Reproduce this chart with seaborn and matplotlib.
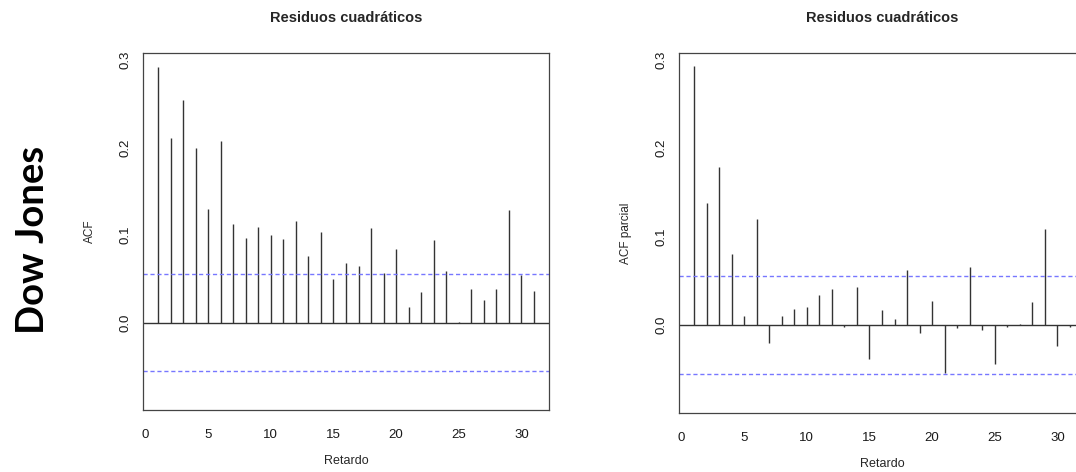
import numpy as np
import matplotlib
matplotlib.use("Agg")
import matplotlib.pyplot as plt
import seaborn as sns

# Lags and correlations
lags = list(range(1, 32))
acf_vals = [0.292, 0.211, 0.254, 0.199, 0.130, 0.207, 0.113, 0.097, 0.109, 0.100,
            0.095, 0.116, 0.076, 0.103, 0.050, 0.068, 0.065, 0.108, 0.057, 0.084,
            0.018, 0.035, 0.094, 0.059, 0.001, 0.038, 0.026, 0.038, 0.129, 0.054,
            0.036]
pacf_vals = [0.293, 0.138, 0.179, 0.080, 0.010, 0.120, -0.021, 0.010, 0.018, 0.020,
             0.034, 0.040, -0.003, 0.043, -0.039, 0.017, 0.006, 0.062, -0.009, 0.027,
             -0.055, -0.004, 0.066, -0.006, -0.044, -0.002, 0.001, 0.026, 0.109, -0.024,
             -0.002]
conf_acf = 0.055
conf_pacf = 0.0555

panel_title = "Residuos cuadráticos"
x_label = "Retardo"
y_labels = ["ACF", "ACF parcial"]
row_label = "Dow Jones"

sns.set_theme(style="white")
plt.rcParams['font.family'] = ['Liberation Sans', 'DejaVu Sans']

fig = plt.figure(figsize=(10.76, 4.72), dpi=100)
ax1 = fig.add_axes([143 / 1076, 1 - 410 / 472, 406 / 1076, 357 / 472])
ax2 = fig.add_axes([679 / 1076, 1 - 413 / 472, 406 / 1076, 360 / 472])

for ax, vals, conf, ylab in [(ax1, acf_vals, conf_acf, y_labels[0]),
                             (ax2, pacf_vals, conf_pacf, y_labels[1])]:
    ax.vlines(lags, 0, vals, color="#333333", linewidth=1.0)
    ax.axhline(0, color="#333333", linewidth=1.0)
    ax.axhline(conf, color="#7777ff", linewidth=1.0, linestyle=(0, (3, 2)))
    ax.axhline(-conf, color="#7777ff", linewidth=1.0, linestyle=(0, (3, 2)))
    ax.set_xlim(-0.2, 32.2)
    ax.set_ylim(-0.1, 0.308)
    ax.set_xticks([0, 5, 10, 15, 20, 25, 30])
    ax.set_yticks([0.0, 0.1, 0.2, 0.3])
    ax.set_yticklabels(["0.0", "0.1", "0.2", "0.3"], rotation=90, va="center")
    ax.tick_params(axis="both", direction="out", length=4, width=0.8, color="#555555",
                   labelsize=9.5, labelcolor="#1a1a1a")
    ax.tick_params(axis="x", pad=10)
    ax.tick_params(axis="y", pad=4)
    for s in ax.spines.values():
        s.set_color("#444444")
        s.set_linewidth(0.9)
    ax.set_title(panel_title, fontsize=10.5, fontweight="bold", pad=22)
    ax.set_xlabel(x_label, fontsize=9, labelpad=10)
    ax.set_ylabel(ylab, fontsize=8.5)
    ax.grid(False)

ax1.yaxis.set_label_coords(-47 / 406, 0.5)
ax2.yaxis.set_label_coords(-47 / 406, 0.5)

fig.text(33 / 1076, 1 - 240 / 472, row_label, rotation=90, ha="center", va="center",
         fontsize=27.5, fontweight="bold", color="black", family=["Lato", "DejaVu Sans"])

fig.savefig("out.png", dpi=100)
